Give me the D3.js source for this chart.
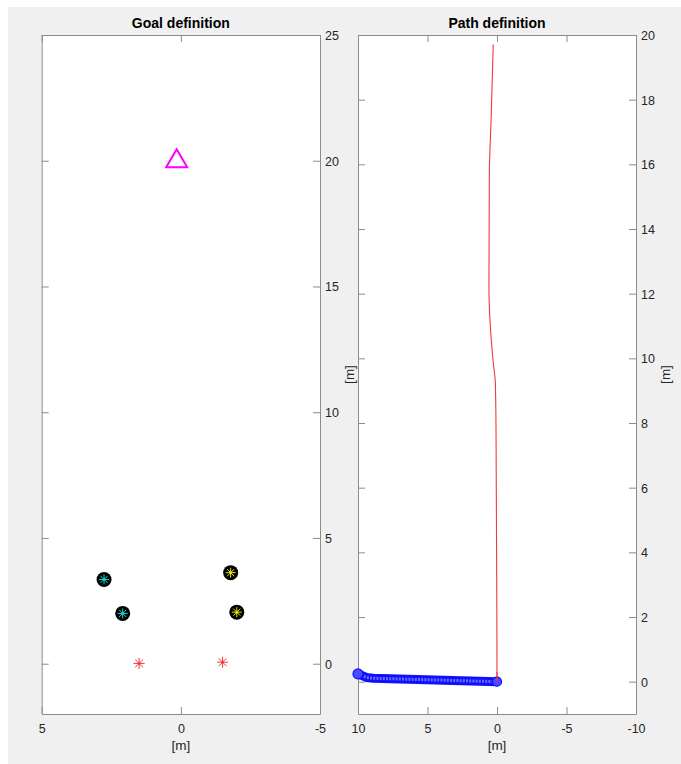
<!DOCTYPE html>
<html>
<head>
<meta charset="utf-8">
<script src="https://cdn.jsdelivr.net/npm/d3@7"></script>
<style>
  html, body { margin: 0; padding: 0; background: #ffffff; }
  svg { display: block; }
  text { font-family: "Liberation Sans", Arial, sans-serif; }
</style>
</head>
<body>
<svg id="fig" width="681" height="764"></svg>
<script>
// ---- data ----
const goalXTicks = [5, 0, -5];
const goalYTicks = [0, 5, 10, 15, 20, 25];
const pathXTicks = [10, 5, 0, -5, -10];
const pathYTicks = [0, 2, 4, 6, 8, 10, 12, 14, 16, 18, 20];

// obstacles / agents shown as stars inside black discs
const cyanAgents = [[2.76, 3.35], [2.09, 2.0]];
const yellowAgents = [[-1.79, 3.62], [-2.01, 2.05]];
// start positions (red stars)
const startPoints = [[1.5, 0.01], [-1.5, 0.06]];
// goal (magenta triangle)
const goalPoint = [0.15, 20.1];

// reference path (red) and driven path (blue)
const refPathX = [0.27, 0.41, 0.55, 0.58, 0.27, 0.12, 0.07, 0.0];
const refPathY = [19.71, 17.57, 15.73, 12.21, 9.87, 9.25, 7.8, 0.0];
const drivenX = [10.0, 9.4, 8.9, 0.0];
const drivenY = [0.24, 0.13, 0.105, 0.0];

// ---- layout ----
const svg = d3.select("#fig");
svg.append("rect").attr("x", 8).attr("y", 7).attr("width", 681 - 8).attr("height", 764 - 7)
  .attr("fill", "#f0f0f0");

const axisColor = "#8c8c8c";
const textColor = "#262626";
const tickLen = 7;
const fmt = d => String(d); // plain hyphen for negative numbers

function panel(opts) {
  const { left, right, top, bottom, xDomain, yDomain, xTicks, yTicks, title } = opts;
  const x = d3.scaleLinear().domain(xDomain).range([left, right]);
  const y = d3.scaleLinear().domain(yDomain).range([bottom, top]);
  const g = svg.append("g");
  g.append("rect").attr("x", left).attr("y", top).attr("width", right - left).attr("height", bottom - top)
    .attr("fill", "#ffffff");

  // plotting layer, clipped to the axes box (markers drawn unclipped)
  const clipId = "clip" + Math.round(left);
  svg.append("clipPath").attr("id", clipId).append("rect")
    .attr("x", left).attr("y", top).attr("width", right - left).attr("height", bottom - top);
  const plot = g.append("g").attr("clip-path", `url(#${clipId})`);

  // axes, ticks pointing inward on all four sides
  const axG = g.append("g");
  const xb = axG.append("g").attr("transform", `translate(0,${bottom})`)
    .call(d3.axisBottom(x).tickValues(xTicks).tickSizeInner(-tickLen).tickSizeOuter(0).tickPadding(10).tickFormat(fmt));
  const xt = axG.append("g").attr("transform", `translate(0,${top})`)
    .call(d3.axisTop(x).tickValues(xTicks).tickSizeInner(-tickLen).tickSizeOuter(0).tickFormat(""));
  const yr = axG.append("g").attr("transform", `translate(${right},0)`)
    .call(d3.axisRight(y).tickValues(yTicks).tickSizeInner(-tickLen).tickSizeOuter(0).tickPadding(5).tickFormat(fmt));
  const yl = axG.append("g").attr("transform", `translate(${left},0)`)
    .call(d3.axisLeft(y).tickValues(yTicks).tickSizeInner(-tickLen).tickSizeOuter(0).tickFormat(""));
  [xb, xt, yr, yl].forEach(a => {
    a.select(".domain").attr("stroke", axisColor);
    a.selectAll(".tick line").attr("stroke", axisColor);
    a.selectAll(".tick text").attr("fill", textColor).attr("font-size", 12.5)
      .style("font-family", "'Liberation Sans', Arial, sans-serif");
  });
  yr.selectAll(".tick text").attr("dy", "0.35em");

  // title and axis labels
  g.append("text").attr("x", (left + right) / 2).attr("y", top - 7)
    .attr("text-anchor", "middle").attr("font-size", 14).attr("font-weight", "bold")
    .attr("fill", "#000").text(title);
  g.append("text").attr("x", (left + right) / 2).attr("y", bottom + 36)
    .attr("text-anchor", "middle").attr("font-size", 13.5).attr("fill", textColor).text("[m]");
  g.append("text")
    .attr("transform", `translate(${right + opts.yLabelOffset},${(top + bottom) / 2}) rotate(-90)`)
    .attr("text-anchor", "middle").attr("font-size", 13.5).attr("fill", textColor).text("[m]");

  const overlay = g.append("g");
  return { x, y, plot, overlay };
}

function star(sel, cx, cy, r, color, w) {
  const g = sel.append("g").attr("transform", `translate(${cx},${cy})`);
  for (let k = 0; k < 4; k++) {
    const a = k * Math.PI / 4;
    g.append("line")
      .attr("x1", -r * Math.cos(a)).attr("y1", -r * Math.sin(a))
      .attr("x2", r * Math.cos(a)).attr("y2", r * Math.sin(a))
      .attr("stroke", color).attr("stroke-width", w);
  }
  g.append("circle").attr("r", 1.3).attr("fill", color);
}

// ---- left panel: goal definition ----
const A = panel({
  left: 41.7, right: 320, top: 35, bottom: 714,
  xDomain: [5, -5], yDomain: [-2, 25],
  xTicks: goalXTicks, yTicks: goalYTicks,
  title: "Goal definition", yLabelOffset: 34
});

[cyanAgents.map(d => [d, "#10d8d8"]), yellowAgents.map(d => [d, "#e6e600"])].flat()
  .forEach(([d, c]) => {
    const cx = A.x(d[0]), cy = A.y(d[1]);
    A.plot.append("circle").attr("cx", cx).attr("cy", cy).attr("r", 7.5).attr("fill", "#000");
    star(A.plot, cx, cy, 5, c, 1);
  });

startPoints.forEach(d => star(A.plot, A.x(d[0]), A.y(d[1]), 5.5, "#f23a3a", 1));

{
  const cx = A.x(goalPoint[0]), cy = A.y(goalPoint[1]);
  const w = 10.5, h = 9;
  A.plot.append("path")
    .attr("d", `M${cx},${cy - h} L${cx + w},${cy + h} L${cx - w},${cy + h} Z`)
    .attr("fill", "none").attr("stroke", "#ff00ff").attr("stroke-width", 2);
}

// ---- right panel: path definition ----
const B = panel({
  left: 358, right: 636, top: 35, bottom: 714,
  xDomain: [10, -10], yDomain: [-1, 20],
  xTicks: pathXTicks, yTicks: pathYTicks,
  title: "Path definition", yLabelOffset: 34
});

const line = d3.line().x(d => B.x(d[0])).y(d => B.y(d[1])).curve(d3.curveMonotoneY);
const refPts = refPathX.map((v, i) => [v, refPathY[i]]);
B.plot.append("path").attr("d", line(refPts))
  .attr("fill", "none").attr("stroke", "#ee3b3b").attr("stroke-width", 1.1);

const drivenPts = drivenX.map((v, i) => [v, drivenY[i]]);
const dline = d3.line().x(d => B.x(d[0])).y(d => B.y(d[1])).curve(d3.curveLinear);
B.overlay.append("path").attr("d", dline(drivenPts))
  .attr("fill", "none").attr("stroke", "#1010ff").attr("stroke-width", 9)
  .attr("stroke-linecap", "round").attr("stroke-linejoin", "round");
B.overlay.append("path").attr("d", dline(drivenPts))
  .attr("fill", "none").attr("stroke", "#6a6aff").attr("stroke-width", 3)
  .attr("stroke-dasharray", "2,1.2");
B.overlay.append("circle").attr("cx", B.x(drivenX[0])).attr("cy", B.y(drivenY[0])).attr("r", 5)
  .attr("fill", "#4a4aff").attr("stroke", "#1010ff").attr("stroke-width", 1.2);
B.overlay.append("circle").attr("cx", B.x(drivenX[drivenX.length - 1])).attr("cy", B.y(drivenY[drivenY.length - 1])).attr("r", 4.5)
  .attr("fill", "#4a4aff").attr("stroke", "#1010ff").attr("stroke-width", 1.2);
// red path end point sits on top of the driven path
B.overlay.append("line")
  .attr("x1", B.x(0)).attr("x2", B.x(0)).attr("y1", B.y(0.3)).attr("y2", B.y(0))
  .attr("stroke", "#ee3b3b").attr("stroke-width", 1.1);
</script>
</body>
</html>
